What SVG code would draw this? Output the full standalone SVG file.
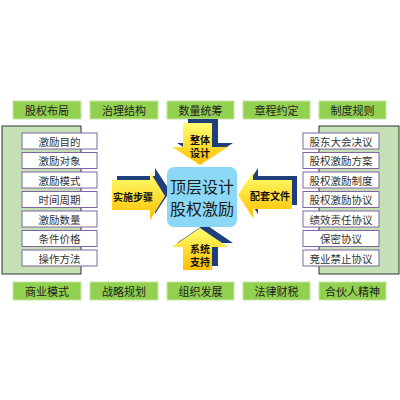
<svg xmlns="http://www.w3.org/2000/svg" width="400" height="400" viewBox="0 0 400 400">
<defs>
<linearGradient id="yg" x1="0" y1="0" x2="0" y2="1"><stop offset="0" stop-color="#ffff70"/><stop offset="1" stop-color="#ffbf00"/></linearGradient>
<style>
text{font-family:"Noto Sans CJK SC","Liberation Sans",sans-serif;text-anchor:middle;dominant-baseline:central}
.g rect{fill:#92d050;stroke:#c6e6a8;stroke-width:1}
.g text{font-size:11px;fill:#222}
.panel{fill:#c5e0b4;stroke:#333;stroke-width:1}
.item rect{fill:#fff;stroke:#8064a2;stroke-width:1}
.item text{font-size:10.5px;fill:#333}
.sh{fill:#1f3f7a}
.ar{fill:url(#yg)}
.at{font-size:10px;font-weight:bold;fill:#111}
</style>
</defs>
<rect width="400" height="400" fill="#fff"/>
<g class="g" id="top-row">
<g id="t1"><rect x="13" y="101" width="68" height="18"/><text x="47" y="110">股权布局</text></g>
<g id="t2"><rect x="90" y="101" width="68" height="18"/><text x="124" y="110">治理结构</text></g>
<g id="t3"><rect x="167" y="101" width="67" height="18"/><text x="200.5" y="110">数量统筹</text></g>
<g id="t4"><rect x="243" y="101" width="67" height="18"/><text x="276.5" y="110">章程约定</text></g>
<g id="t5"><rect x="319" y="101" width="67" height="18"/><text x="352.5" y="110">制度规则</text></g>
</g>
<g class="g" id="bottom-row">
<g id="b1"><rect x="13" y="282" width="68" height="18"/><text x="47" y="291">商业模式</text></g>
<g id="b2"><rect x="90" y="282" width="68" height="18"/><text x="124" y="291">战略规划</text></g>
<g id="b3"><rect x="167" y="282" width="67" height="18"/><text x="200.5" y="291">组织发展</text></g>
<g id="b4"><rect x="243" y="282" width="67" height="18"/><text x="276.5" y="291">法律财税</text></g>
<g id="b5"><rect x="319" y="282" width="67" height="18"/><text x="352.5" y="291">合伙人精神</text></g>
</g>
<g id="left-panel">
<rect class="panel" x="2" y="126" width="79" height="148"/>
<g class="item" id="l1"><rect x="22" y="133" width="75" height="16"/><text x="59.5" y="141">激励目的</text></g>
<g class="item" id="l2"><rect x="22" y="152.5" width="75" height="16"/><text x="59.5" y="160.5">激励对象</text></g>
<g class="item" id="l3"><rect x="22" y="172" width="75" height="16"/><text x="59.5" y="180">激励模式</text></g>
<g class="item" id="l4"><rect x="22" y="191.5" width="75" height="16"/><text x="59.5" y="199.5">时间周期</text></g>
<g class="item" id="l5"><rect x="22" y="211" width="75" height="16"/><text x="59.5" y="219">激励数量</text></g>
<g class="item" id="l6"><rect x="22" y="230.5" width="75" height="16"/><text x="59.5" y="238.5">条件价格</text></g>
<g class="item" id="l7"><rect x="22" y="250" width="75" height="16"/><text x="59.5" y="258">操作方法</text></g>
</g>
<g id="right-panel">
<rect class="panel" x="319" y="126" width="80" height="148"/>
<g class="item" id="r1"><rect x="303" y="133" width="76" height="16"/><text x="341" y="141">股东大会决议</text></g>
<g class="item" id="r2"><rect x="303" y="152.5" width="76" height="16"/><text x="341" y="160.5">股权激励方案</text></g>
<g class="item" id="r3"><rect x="303" y="172" width="76" height="16"/><text x="341" y="180">股权激励制度</text></g>
<g class="item" id="r4"><rect x="303" y="191.5" width="76" height="16"/><text x="341" y="199.5">股权激励协议</text></g>
<g class="item" id="r5"><rect x="303" y="211" width="76" height="16"/><text x="341" y="219">绩效责任协议</text></g>
<g class="item" id="r6"><rect x="303" y="230.5" width="76" height="16"/><text x="341" y="238.5">保密协议</text></g>
<g class="item" id="r7"><rect x="303" y="250" width="76" height="16"/><text x="341" y="258">竞业禁止协议</text></g>
</g>
<g id="arrows">
<g id="arrow-top">
<polygon class="sh" points="188,119 218,119 218,143 233,143 205,161 177,143 188,143"/>
<polygon class="ar" points="183,123 212,123 212,147 228,147 200,165 172,147 183,147"/>
<text class="at" x="200" y="139">整体</text><text class="at" x="200" y="152.5">设计</text>
</g>
<g id="arrow-bottom">
<polygon class="sh" points="205,224 233,243 218,243 218,266 188,266 188,243 177,243"/>
<polygon class="ar" points="200,228 228,247 212,247 212,270 183,270 183,247 172,247"/>
<text class="at" x="200" y="248">系统</text><text class="at" x="200" y="261.5">支持</text>
</g>
<g id="arrow-left">
<polygon class="sh" points="117,176 155,176 155,168 170,191 155,214 155,206 117,206"/>
<polygon class="ar" points="112,180 150,180 150,172 165,196 150,220 150,210 112,210"/>
<text class="at" x="133" y="196">实施步骤</text>
</g>
<g id="arrow-right">
<polygon class="sh" points="243,191 258,168 258,176 297,176 297,205 258,205 258,214"/>
<polygon class="ar" points="238,195 253,172 253,180 292,180 292,209 253,209 253,218"/>
<text class="at" x="270" y="195">配套文件</text>
</g>
</g>
<g id="center">
<rect x="167" y="167" width="70" height="60" rx="7" fill="#8ad8f6"/>
<text x="202" y="186" font-size="16" fill="#1a1a1a">顶层设计</text>
<text x="202" y="208" font-size="16" fill="#1a1a1a">股权激励</text>
</g>
</svg>
